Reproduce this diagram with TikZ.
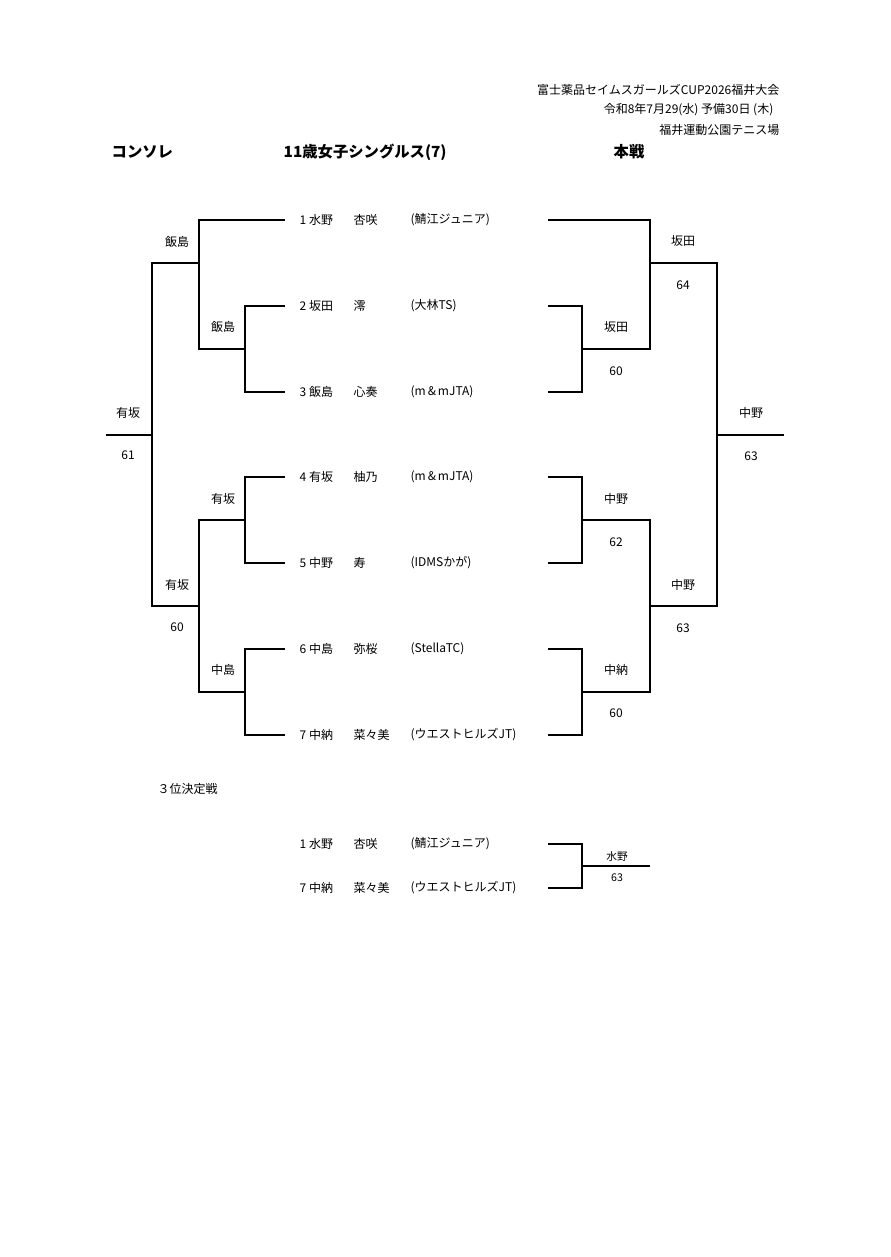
\documentclass[tikz,border=0pt]{standalone}
\usepackage{fontspec}
\setmainfont{Noto Sans CJK JP}
\tikzset{every picture/.style={line width=1pt}}
\tikzset{lbl/.style={inner sep=0.75pt,font=\fontsize{9}{10}\selectfont},
  ttl/.style={inner sep=0.75pt,font=\fontsize{11.5}{13}\selectfont\bfseries}}
\begin{document}
\begin{tikzpicture}[x=0.75pt,y=0.75pt,yscale=-1,xscale=1]
\useasboundingbox (0,0) rectangle (890,1257);
% Header
\node [lbl,anchor=east] (h1) at (781,90) {富士薬品セイムスガールズCUP2026福井大会};
\node [lbl,anchor=east] (h2) at (775,110) {令和8年7月29(水) 予備30日 (木)};
\node [lbl,anchor=east] (h3) at (781,130) {福井運動公園テニス場};
\node [ttl,anchor=west] (t1) at (110,152) {コンソレ};
\node [ttl,anchor=west] (t2) at (282,152) {11歳女子シングルス(7)};
\node [ttl] (t3) at (629,152) {本戦};
% Players
\foreach \n/\y/\sur/\giv/\club in {1/220/水野/杏咲/(鯖江ジュニア), 2/306/坂田/澪/(大林TS),
  3/392/飯島/心奏/(m\,\&\,mJTA), 4/477/有坂/柚乃/(m\,\&\,mJTA), 5/563/中野/寿/(IDMSかが),
  6/649/中島/弥桜/(StellaTC), 7/735/中納/菜々美/(ウエストヒルズJT)} {
  \node [lbl,anchor=west] (p\n) at (298,\y) {\n\ \sur};
  \node [lbl,anchor=west] (g\n) at (352,\y) {\giv};
  \node [lbl,anchor=west] (c\n) at (409,\y) {\club};
  \coordinate (L\n) at (285,\y);
  \coordinate (R\n) at (548,\y);
}
% Left bracket
\coordinate (la) at (245,349); \coordinate (lb) at (199,263);
\coordinate (lc) at (245,520); \coordinate (ld) at (245,692);
\coordinate (le) at (199,606); \coordinate (lf) at (152,435);
\coordinate (lg) at (106,435);
\draw (L2) -| (la) |- (L3);
\draw (L1) -| (lb) |- (la);
\draw (L4) -| (lc) |- (L5);
\draw (L6) -| (ld) |- (L7);
\draw (lc) -| (le) |- (ld);
\draw (lb) -| (lf) |- (le);
\draw (lf) -- (lg);
% Right bracket
\coordinate (ra) at (582,349); \coordinate (rb) at (650,263);
\coordinate (rc) at (582,520); \coordinate (rd) at (582,692);
\coordinate (re) at (650,606); \coordinate (rf) at (717,435);
\coordinate (rg) at (784,435);
\draw (R2) -| (ra) |- (R3);
\draw (R1) -| (rb) |- (ra);
\draw (R4) -| (rc) |- (R5);
\draw (R6) -| (rd) |- (R7);
\draw (rc) -| (re) |- (rd);
\draw (rb) -| (rf) |- (re);
\draw (rf) -- (rg);
% Left labels
\foreach \x/\y/\t in {177/242/飯島, 223/327/飯島, 128/413/有坂, 128/455/61, 223/499/有坂,
  177/585/有坂, 177/627/60, 223/670/中島}
  \node [lbl] at (\x,\y) {\t};
% Right labels
\foreach \x/\y/\t in {683/241/坂田, 683/285/64, 616/327/坂田, 616/371/60, 751/413/中野,
  751/456/63, 616/499/中野, 616/542/62, 683/585/中野, 683/628/63, 616/670/中納, 616/713/60}
  \node [lbl] at (\x,\y) {\t};
% Third place
\node [lbl,anchor=west] (tp) at (156,789) {３位決定戦};
\node [lbl,anchor=west] (q1) at (298,844) {1\ 水野};
\node [lbl,anchor=west] (q1g) at (352,844) {杏咲};
\node [lbl,anchor=west] (q1c) at (409,844) {(鯖江ジュニア)};
\node [lbl,anchor=west] (q7) at (298,888) {7\ 中納};
\node [lbl,anchor=west] (q7g) at (352,888) {菜々美};
\node [lbl,anchor=west] (q7c) at (409,888) {(ウエストヒルズJT)};
\coordinate (Q1) at (548,844); \coordinate (Q7) at (548,888);
\coordinate (qa) at (582,866); \coordinate (qb) at (650,866);
\draw (Q1) -| (qa) |- (Q7);
\draw (qa) -- (qb);
\node [lbl,font=\fontsize{8}{9}\selectfont] at (617,856) {水野};
\node [lbl,font=\fontsize{8}{9}\selectfont] at (617,878) {63};
\end{tikzpicture}
\end{document}
